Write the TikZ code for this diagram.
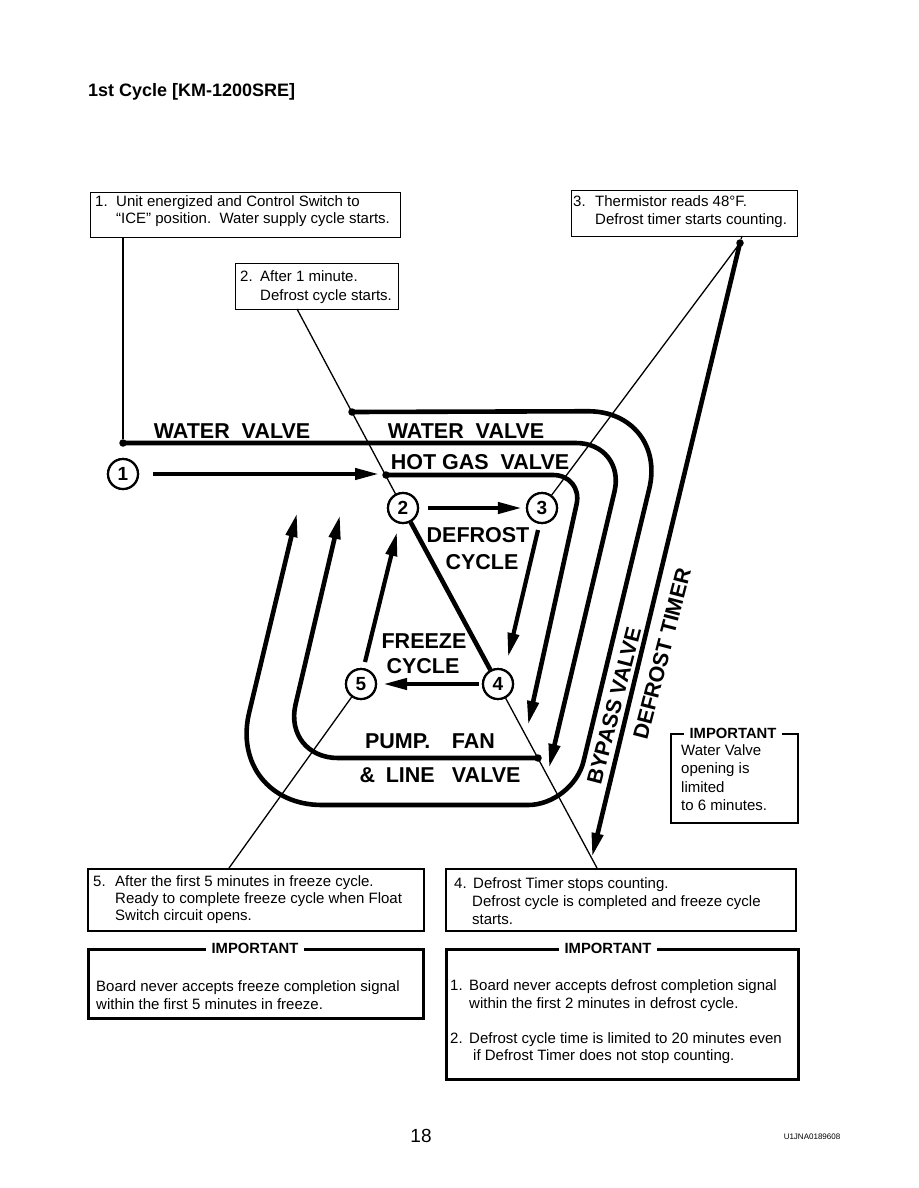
\documentclass[tikz,border=0pt]{standalone}
\usepackage{fontspec}
\setmainfont{Liberation Sans}
\usetikzlibrary{arrows.meta,calc}
\begin{document}
\begin{tikzpicture}[x=1pt,y=-1pt,
  txt/.style={anchor=base west,inner sep=0pt,font=\fontsize{15}{17}\selectfont},
  lbl/.style={inner sep=0pt,font=\fontsize{21.5}{24}\selectfont\bfseries},
  box/.style={draw,line width=1.4pt,anchor=north west,inner sep=0pt},
  impbox/.style={draw,line width=2.6pt,anchor=north west,inner sep=0pt},
  imptitle/.style={fill=white,inner xsep=6pt,inner ysep=1pt,font=\fontsize{14.8}{16}\selectfont\bfseries},
  pipe/.style={line width=4.6pt},
  flow/.style={line width=4.6pt,-{Triangle[length=24pt,width=11pt]}},
  cflow/.style={line width=4.2pt,-{Triangle[length=24pt,width=11pt]}},
  thinl/.style={line width=1.3pt},
  num/.style={circle,draw,line width=2.2pt,minimum size=30pt,inner sep=0pt,fill=white,font=\fontsize{19}{19}\selectfont\bfseries},
  dot/.style={circle,fill,inner sep=0pt,minimum size=7.5pt},
]
\fill[white] (0,0) rectangle (918,1188);
\useasboundingbox (0,0) rectangle (918,1188);

% title and footer
\node[anchor=base west,inner sep=0pt,font=\fontsize{18}{20}\selectfont\bfseries] (title) at (88,97) {1st Cycle [KM-1200SRE]};
\node[anchor=base,inner sep=0pt,font=\fontsize{19}{20}\selectfont] (page) at (421,1142) {18};
\node[anchor=base,inner sep=0pt,font=\fontsize{8}{9}\selectfont] (code) at (812,1139) {U1JNA0189608};

% boxes
\node[box,minimum width=310pt,minimum height=45pt] (b1) at (90,192) {};
\node[box,minimum width=163pt,minimum height=46pt] (b2) at (235,263) {};
\node[box,minimum width=226pt,minimum height=46pt] (b3) at (571,190) {};
\node[box,line width=1.8pt,minimum width=336pt,minimum height=62pt] (b5) at (87,868) {};
\node[box,line width=1.8pt,minimum width=350pt,minimum height=62pt] (b4) at (445,868) {};
\node[impbox,minimum width=335pt,minimum height=69pt] (i5) at (87,948) {};
\node[impbox,minimum width=352pt,minimum height=130pt] (i4) at (445,948) {};
\node[impbox,line width=2.2pt,minimum width=127pt,minimum height=89pt] (iw) at (670,733) {};
\node[imptitle] (i5t) at (255,948) {IMPORTANT};
\node[imptitle] (i4t) at (608,948) {IMPORTANT};
\node[imptitle] (iwt) at (733,733) {IMPORTANT};

% box texts
\node[txt] (t1a) at (95,206) {\makebox[21pt][l]{1.}Unit energized and Control Switch to};
\node[txt] (t1b) at (116,223) {“ICE” position.\ \ Water supply cycle starts.};
\node[txt] (t2a) at (240,281) {\makebox[20pt][l]{2.}After 1 minute.};
\node[txt] (t2b) at (260,300) {Defrost cycle starts.};
\node[txt] (t3a) at (573,206) {\makebox[22pt][l]{3.}Thermistor reads 48°F.};
\node[txt] (t3b) at (595,224) {Defrost timer starts counting.};
\node[txt] (t5a) at (93,886) {\makebox[22pt][l]{5.}After the first 5 minutes in freeze cycle.};
\node[txt] (t5b) at (115,903) {Ready to complete freeze cycle when Float};
\node[txt] (t5c) at (115,920) {Switch circuit opens.};
\node[txt] (i5a) at (96,991) {Board never accepts freeze completion signal};
\node[txt] (i5b) at (96,1009) {within the first 5 minutes in freeze.};
\node[txt] (t4a) at (454,888) {\makebox[19pt][l]{4.}Defrost Timer stops counting.};
\node[txt] (t4b) at (472,906) {Defrost cycle is completed and freeze cycle};
\node[txt] (t4c) at (472,924) {starts.};
\node[txt] (i4a) at (450,990) {\makebox[19pt][l]{1.}Board never accepts defrost completion signal};
\node[txt] (i4b) at (469,1008) {within the first 2 minutes in defrost cycle.};
\node[txt] (i4c) at (450,1043) {\makebox[19pt][l]{2.}Defrost cycle time is limited to 20 minutes even};
\node[txt] (i4d) at (473,1060) {if Defrost Timer does not stop counting.};
\node[txt] (iwa) at (681,755) {Water Valve};
\node[txt] (iwb) at (681,773) {opening is};
\node[txt] (iwc) at (681,792) {limited};
\node[txt] (iwd) at (681,810) {to 6 minutes.};

% junction dots and numbered circles
\node[dot] (wv1) at (123,443) {};
\node[dot] (wv2) at (352,412) {};
\node[dot] (hg) at (386,475) {};
\node[dot] (pf) at (538,758) {};
\node[dot] (dt) at (740,243) {};
\node[num] (c1) at (123,474) {1};
\node[num] (c2) at (403,508) {2};
\node[num] (c3) at (542,508) {3};
\node[num] (c4) at (498,684) {4};
\node[num] (c5) at (361,684) {5};

\coordinate (b2o) at (297,309);
\coordinate (b3o) at (742,236);
\coordinate (b4o) at (597,868);
\coordinate (b5o) at (229,868);
\coordinate (a1) at (379,474);

% thin leader lines
\draw[thinl] (b1.south -| wv1) -- (wv1);
\draw[thinl] (b2o) -- (c2);
\draw[thinl] (b3o) -- (dt);
\draw[thinl] (dt) -- (c3);
\draw[thinl] (c4) -- (b4o);
\draw[thinl] (c5) -- (b5o);

% valve / timer lines
\draw[flow,rounded corners=50pt] (wv1.center) -- (626,443) -- (549,768);
\draw[flow,rounded corners=30pt] (hg.center) -- (583,475) -- (528,725);
\draw[flow] (wv2.center) [rounded corners=80pt] -- (668,411) [rounded corners=45pt] -- (573,805) [rounded corners=95pt] -- (227,805) -- (297,513);
\draw[flow,rounded corners=55pt] (pf.center) -- (283,758) -- (340,515);
\draw[flow] (dt.center) -- (592,857);
\draw[cflow,shorten <=14pt] (c1) -- (a1);

% cycle arrows
\draw[cflow,shorten <=9pt,shorten >=4pt] (c2) -- (c3);
\draw[cflow] ($(c3)+(-4,22)$) -- ($(c4)+(10,-27)$);
\draw[cflow,shorten <=3pt,shorten >=6pt] (c4) -- (c5);
\draw[cflow] ($(c5)+(4,-22)$) -- ($(c2)+(-6,24)$);
\draw[pipe] (c2) -- (c4);

% redraw circles on top
\foreach \n in {c1,c2,c3,c4,c5} {\node[num] at (\n) {};}
\node[num,draw=none,fill=none] at (c1) {1};
\node[num,draw=none,fill=none] at (c2) {2};
\node[num,draw=none,fill=none] at (c3) {3};
\node[num,draw=none,fill=none] at (c4) {4};
\node[num,draw=none,fill=none] at (c5) {5};

% labels
\node[lbl] (lwv1) at (232,431) {WATER\ \ VALVE};
\node[lbl] (lwv2) at (466,431) {WATER\ \ VALVE};
\node[lbl] (lhg) at (480,462) {HOT GAS\ \ VALVE};
\node[lbl] (ld1) at (478,535) {DEFROST};
\node[lbl] (ld2) at (482,562) {CYCLE};
\node[lbl] (lf1) at (424,641) {FREEZE};
\node[lbl] (lf2) at (423,666) {CYCLE};
\node[lbl] (lp1) at (430,741) {PUMP.\hspace{1em}FAN};
\node[lbl] (lp2) at (440,775) {\&\hspace{0.5em}LINE\hspace{0.8em}VALVE};
\node[lbl,rotate=75.5] (lbp) at (614,706) {BYPASS VALVE};
\node[lbl,rotate=75.5] (ldt) at (662,654) {DEFROST TIMER};
\end{tikzpicture}
\end{document}
